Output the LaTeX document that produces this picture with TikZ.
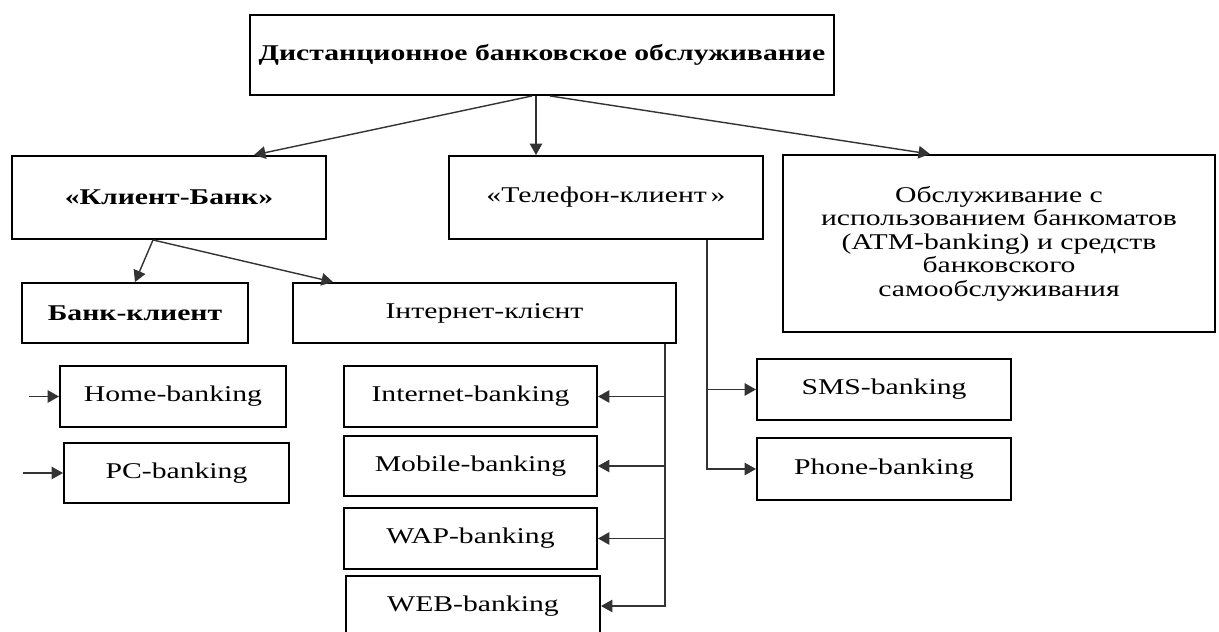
\documentclass[tikz,border=0pt]{standalone}
\usepackage{fontspec}
\setmainfont[FakeStretch=1.32]{Liberation Serif}
\usetikzlibrary{arrows.meta,positioning}
\tikzset{
  box/.style={draw, line width=1.1pt, align=center, inner sep=2pt},
  conn/.style={-{Triangle[length=2.3mm,width=2.5mm]}, line width=0.8pt,
               draw=black!80},
}

\begin{document}
\begin{tikzpicture}[font=\fontsize{12.8pt}{13.4pt}\selectfont]

\useasboundingbox (0,0) rectangle (24.38,12.64);

% top level
\node[box, minimum width=11.68cm, minimum height=1.60cm] (dbo) at (10.84,11.54)
  {\textbf{Дистанционное банковское обслуживание}};

% second level
\node[box, minimum width=6.28cm, minimum height=1.66cm] (kb) at (3.38,8.69)
  {\textbf{«Клиент-Банк»}};
\node[box, minimum width=6.28cm, minimum height=1.66cm] (tk) at (12.12,8.69)
  {«Телефон-клиент\,»};
\node[box, minimum width=8.64cm, minimum height=3.54cm] (atm) at (19.98,7.77)
  {Обслуживание с\\использованием банкоматов\\(ATM-banking) и средств\\банковского\\самообслуживания};

% client-bank branch
\node[box, minimum width=4.52cm, minimum height=1.20cm] (bk) at (2.70,6.38)
  {\textbf{Банк-клиент}};
\node[box, minimum width=7.66cm, minimum height=1.20cm] (ik) at (9.69,6.38)
  {Інтернет-клієнт};
\node[box, minimum width=4.52cm, minimum height=1.22cm] (home) at (3.46,4.71)
  {Home-banking};
\node[box, minimum width=4.50cm, minimum height=1.20cm] (pc) at (3.53,3.18)
  {PC-banking};
\node[box, minimum width=5.06cm, minimum height=1.22cm] (ib) at (9.41,4.71)
  {Internet-banking};
\node[box, minimum width=5.06cm, minimum height=1.20cm] (mb) at (9.41,3.32)
  {Mobile-banking};
\node[box, minimum width=5.06cm, minimum height=1.22cm] (wap) at (9.41,1.87)
  {WAP-banking};
\node[box, minimum width=5.08cm, minimum height=1.20cm] (web) at (9.46,0.52)
  {WEB-banking};

% phone branch
\node[box, minimum width=5.08cm, minimum height=1.22cm] (sms) at (17.68,4.85)
  {SMS-banking};
\node[box, minimum width=5.08cm, minimum height=1.24cm] (phone) at (17.68,3.26)
  {Phone-banking};

\coordinate (homein) at (0.58,4.71);
\coordinate (pcin) at (0.46,3.18);
\coordinate (ikbus) at ([xshift=-2.4mm]ik.south east);
\coordinate (tkbus) at ([xshift=2.02cm]tk.south);

\draw[conn] ([xshift=-2mm]dbo.south) -- ([xshift=1.7cm]kb.north);
\draw[conn] ([xshift=-1.2mm]dbo.south) -- ([xshift=-1.2mm]dbo.south |- tk.north);
\draw[conn] ([xshift=1.6mm]dbo.south) -- ([xshift=-1.38cm]atm.north);
\draw[conn] ([xshift=-3.2mm]kb.south) -- (bk.north);
\draw[conn] ([xshift=-3.2mm]kb.south) -- ([xshift=-3.03cm]ik.north);

\draw[conn] (homein) -- (home.west);
\draw[conn] (pcin) -- (pc.west);

\draw[conn] (ikbus) |- (web.east);
\draw[conn] (ikbus |- ib.east) -- (ib.east);
\draw[conn] (ikbus |- mb.east) -- (mb.east);
\draw[conn] (ikbus |- wap.east) -- (wap.east);

\draw[conn] (tkbus) |- (phone.west);
\draw[conn] (tkbus |- sms.west) -- (sms.west);

\end{tikzpicture}
\end{document}
